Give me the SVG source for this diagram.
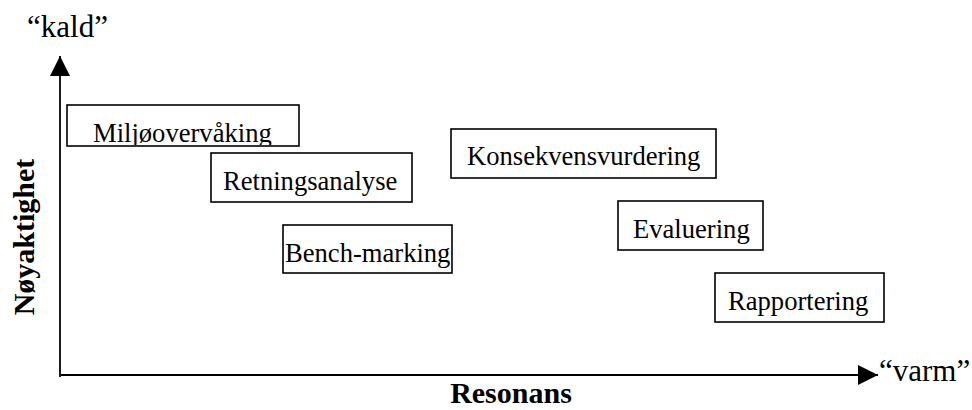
<svg xmlns="http://www.w3.org/2000/svg" width="972" height="410" viewBox="0 0 972 410">
  <style>
    .box { fill: #fff; stroke: #000; stroke-width: 1.6; }
    .lbl { font-family: 'Liberation Serif', serif; font-size: 26.6px; fill: #000; }
    .end { font-family: 'Liberation Serif', serif; font-size: 31px; fill: #000; }
    .ax { font-family: 'Liberation Serif', serif; font-size: 30px; font-weight: bold; fill: #000; }
    .axis { stroke: #000; stroke-width: 1.8; fill: none; }
  </style>
  <defs>
    <marker id="arrow" viewBox="0 0 20 20" refX="20" refY="10" markerWidth="20" markerHeight="20" markerUnits="userSpaceOnUse" orient="auto">
      <path d="M0,0 L20,10 L0,20 Z" fill="#000"/>
    </marker>
    <clipPath id="clipMiljo">
      <rect x="68" y="106" width="230" height="39"/>
    </clipPath>
  </defs>

  <!-- axes -->
  <g id="connectors">
    <line class="axis" x1="60" y1="377" x2="60" y2="56" marker-end="url(#arrow)"/>
    <line class="axis" x1="61" y1="375" x2="878" y2="375" marker-end="url(#arrow)"/>
  </g>

  <!-- axis labels -->
  <text class="end" x="27" y="37">“kald”</text>
  <text class="end" x="879" y="381">“varm”</text>
  <text class="ax" x="511" y="403" text-anchor="middle">Resonans</text>
  <text class="ax" transform="translate(34,237) rotate(-90)" text-anchor="middle">Nøyaktighet</text>

  <!-- nodes -->
  <g id="miljoovervaking">
    <rect class="box" x="67" y="105" width="232" height="41"/>
    <text class="lbl" x="93" y="142" clip-path="url(#clipMiljo)">Miljøovervåking</text>
  </g>
  <g id="retningsanalyse">
    <rect class="box" x="211" y="153" width="201" height="49"/>
    <text class="lbl" x="223" y="190">Retningsanalyse</text>
  </g>
  <g id="benchmarking">
    <rect class="box" x="283" y="225" width="169" height="48"/>
    <text class="lbl" x="285" y="262">Bench-marking</text>
  </g>
  <g id="konsekvensvurdering">
    <rect class="box" x="451" y="129" width="265" height="49"/>
    <text class="lbl" x="467" y="165">Konsekvensvurdering</text>
  </g>
  <g id="evaluering">
    <rect class="box" x="618" y="201" width="145" height="49"/>
    <text class="lbl" x="633" y="238">Evaluering</text>
  </g>
  <g id="rapportering">
    <rect class="box" x="715" y="273" width="169" height="49"/>
    <text class="lbl" x="728" y="310">Rapportering</text>
  </g>
</svg>
